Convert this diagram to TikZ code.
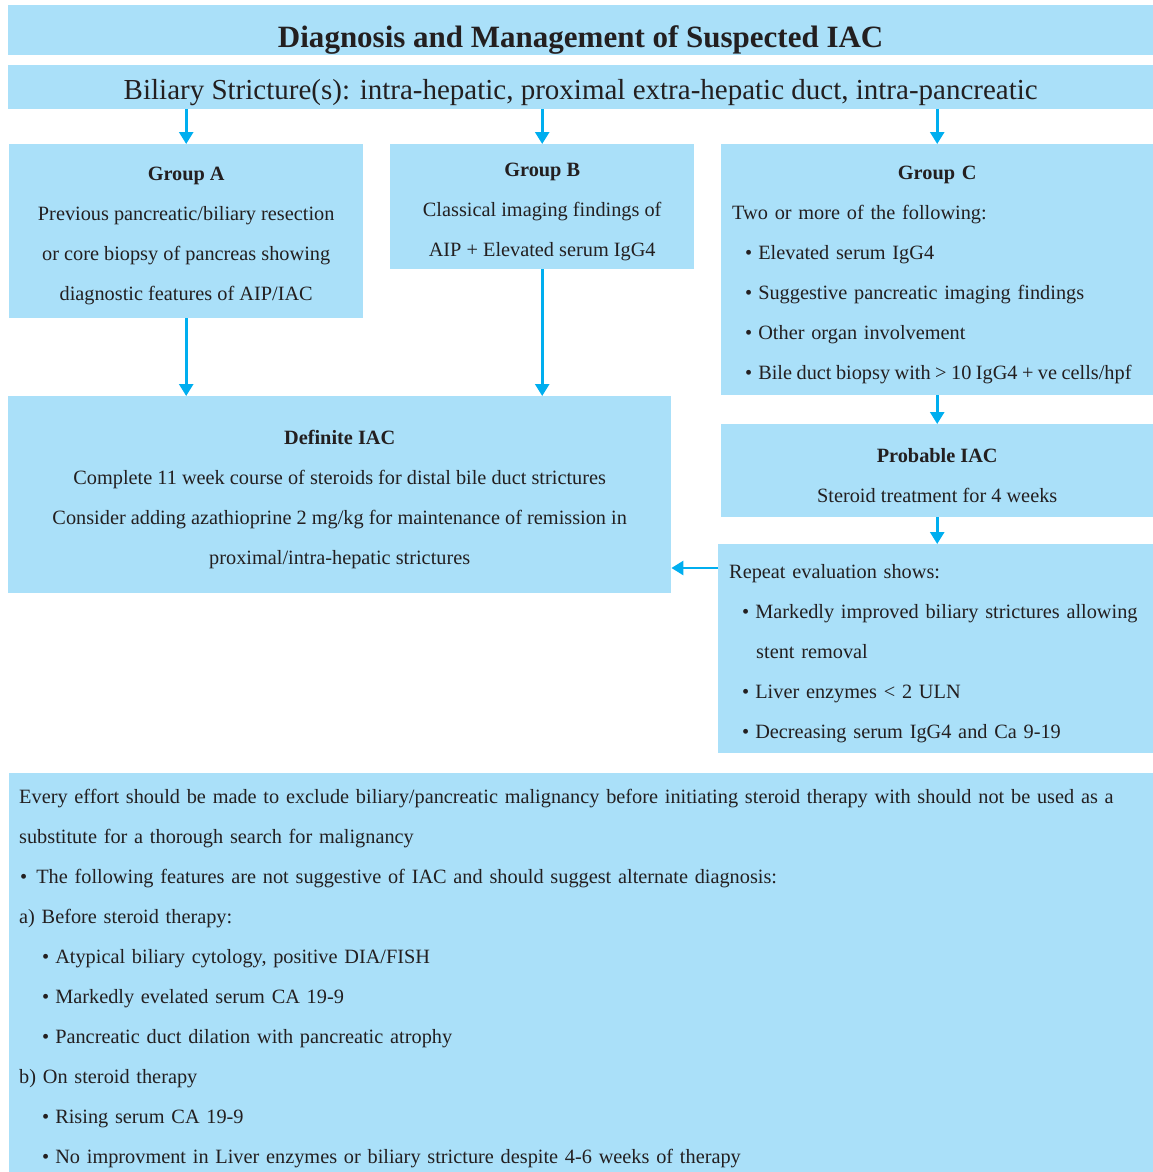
\documentclass[tikz,border=0pt]{standalone}
\usepackage{fontspec}
\setmainfont{Liberation Serif}
\usetikzlibrary{arrows.meta,calc,positioning}
\definecolor{boxBlue}{HTML}{AAE0F9}
\definecolor{arrCyan}{HTML}{00AEEF}
\definecolor{inkDark}{HTML}{231F20}
\newcommand{\bodyfont}{\fontsize{20.3}{40}\selectfont}
\newcommand{\topfix}[1][23pt]{\rule{0pt}{#1}}
\newcommand{\bitem}{\hspace*{13pt}\textbullet\hspace{6pt}}
\newcommand{\subbul}{\hspace*{23pt}\textbullet\hspace{6pt}}

\begin{document}
\begin{tikzpicture}[
  x=1pt,y=-1pt,
  box/.style={fill=boxBlue,anchor=north west,inner sep=0pt,text=inkDark,
    font=\bodyfont,align=center},
  lbox/.style={box,align=left,inner xsep=11pt},
  arr/.style={-{Triangle[width=14pt,length=12pt]},line width=2.6pt,arrCyan}
]
  \useasboundingbox (0,0) rectangle (1153,1172);

  \node[box,minimum width=1145pt,minimum height=50pt,
    font=\fontsize{31}{34}\selectfont\bfseries] (title) at (8,5)
    {\topfix[42pt]Diagnosis and Management of Suspected IAC};
  \node[box,minimum width=1145pt,minimum height=44pt,
    font=\fontsize{29}{32}\selectfont] (bil) at (8,65)
    {\topfix[30pt]Biliary Stricture(s): intra-hepatic, proximal extra-hepatic duct, intra-pancreatic};

  \node[box,minimum width=354pt,minimum height=174pt] (grpA) at (9,144)
    {\topfix\textbf{Group A}\\Previous pancreatic/biliary resection\\or core biopsy of pancreas showing\\diagnostic features of AIP/IAC};
  \node[box,minimum width=304pt,minimum height=125pt] (grpB) at (390,144)
    {\topfix\textbf{Group B}\\Classical imaging findings of\\AIP + Elevated serum IgG4};
  \node[lbox,text width=410pt,minimum height=251pt] (grpC) at (721,144)
    {\topfix\hfill\textbf{Group C}\hfill\null\\
     Two or more of the following:\\
     \bitem Elevated serum IgG4\\
     \bitem Suggestive pancreatic imaging findings\\
     \bitem Other organ involvement\\
     \bitem \mbox{\spaceskip=0.22em\relax Bile duct biopsy with > 10 IgG4 + ve cells/hpf}};

  \node[box,minimum width=663pt,minimum height=197pt] (def) at (8,396)
    {\topfix\textbf{Definite IAC}\\
     Complete 11 week course of steroids for distal bile duct strictures\\
     Consider adding azathioprine 2 mg/kg for maintenance of remission in\\
     proximal/intra-hepatic strictures};
  \node[box,minimum width=432pt,minimum height=93pt] (prob) at (721,424)
    {\topfix\textbf{Probable IAC}\\Steroid treatment for 4 weeks};
  \node[lbox,text width=413pt,minimum height=209pt] (rep) at (718,544)
    {\topfix Repeat evaluation shows:\\
     \bitem Markedly improved biliary strictures allowing\\
     \hspace*{27pt}stent removal\\
     \bitem Liver enzymes < 2 ULN\\
     \bitem Decreasing serum IgG4 and Ca 9-19};

  \node[lbox,inner xsep=10pt,text width=1124pt,minimum height=399pt] (note) at (9,773)
    {\topfix[26pt]Every effort should be made to exclude biliary/pancreatic malignancy before initiating steroid therapy with should not be used as a\\
     substitute for a thorough search for malignancy\\
     \hspace*{1pt}\textbullet\hspace{9pt}The following features are not suggestive of IAC and should suggest alternate diagnosis:\\
     a) Before steroid therapy:\\
     \subbul Atypical biliary cytology, positive DIA/FISH\\
     \subbul Markedly evelated serum CA 19-9\\
     \subbul Pancreatic duct dilation with pancreatic atrophy\\
     b) On steroid therapy\\
     \subbul Rising serum CA 19-9\\
     \subbul No improvment in Liver enzymes or biliary stricture despite 4-6 weeks of therapy};

  \draw[arr] (grpA.north |- bil.south) -- (grpA.north);
  \draw[arr] (grpB.north |- bil.south) -- (grpB.north);
  \draw[arr] (grpC.north |- bil.south) -- (grpC.north);
  \draw[arr] (grpA.south) -- (grpA.south |- def.north);
  \draw[arr] (grpB.south) -- (grpB.south |- def.north);
  \draw[arr] (grpC.south) -- (prob.north);
  \draw[arr] (prob.south) -- (prob.south |- rep.north);
  \coordinate (repin) at (718,568);
  \draw[arr] (repin) -- (repin -| def.east);
\end{tikzpicture}
\end{document}
